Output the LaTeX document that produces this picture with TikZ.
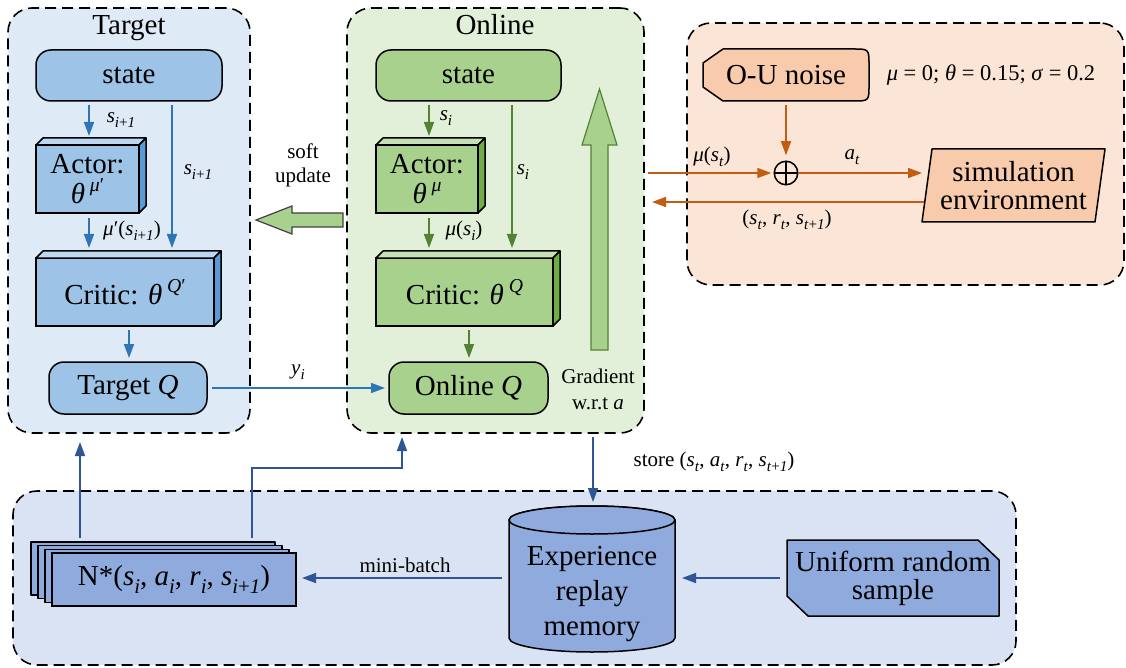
\documentclass[tikz,border=0pt]{standalone}
\usepackage{fontspec}
\setmainfont{Liberation Serif}
\usepackage{graphicx}
\usetikzlibrary{arrows.meta,calc}

% palette
\definecolor{tgtbg}{HTML}{DEEBF7}
\definecolor{tgtfill}{HTML}{9DC3E6}
\definecolor{tgttop}{HTML}{BDD7EE}
\definecolor{tgtside}{HTML}{5B9BD5}
\definecolor{tgtline}{HTML}{2E75B6}
\definecolor{onlbg}{HTML}{E2F0D9}
\definecolor{onlfill}{HTML}{A9D18E}
\definecolor{onltop}{HTML}{C5E0B4}
\definecolor{onlside}{HTML}{70AD47}
\definecolor{onlline}{HTML}{548235}
\definecolor{envbg}{HTML}{FBE5D6}
\definecolor{envfill}{HTML}{F8CBAD}
\definecolor{envline}{HTML}{C55A11}
\definecolor{membg}{HTML}{DAE3F3}
\definecolor{memfill}{HTML}{8FAADC}
\definecolor{memline}{HTML}{2F5597}

\newcommand{\boxsize}{\fontsize{29}{31}\selectfont}
\newcommand{\lblsize}{\fontsize{21}{24}\selectfont}
\newcommand{\mi}[1]{\textit{#1}}
\newcommand{\sbs}[1]{\raisebox{-0.25em}{\scalebox{0.72}{#1}}}
\newcommand{\sps}[1]{\raisebox{0.42em}{\scalebox{0.68}{#1}}}

% top and side faces of a block drawn as a cuboid
\newcommand{\cubefaces}[3]{%
  \draw[line width=1.5pt, line join=round, fill=#2] (#1.north west) -- ++(7,-7)
    -- ($(#1.north east)+(7,-7)$) -- (#1.north east) -- cycle;
  \draw[line width=1.5pt, line join=round, fill=#3] (#1.north east) -- ++(7,-7)
    -- ($(#1.south east)+(7,-7)$) -- (#1.south east) -- cycle;}

\pgfdeclarelayer{panels}
\pgfdeclarelayer{faces}
\pgfsetlayers{panels,faces,main}

\tikzset{
  panel/.style={draw=black, line width=1.6pt, dash pattern=on 11pt off 6pt,
    rounded corners=24pt, inner sep=0pt, outer sep=0pt},
  blk/.style={draw=black, line width=1.5pt, inner sep=0pt, outer sep=0pt,
    align=center, font=\boxsize},
  rblk/.style={blk, rounded corners=15pt},
  plain/.style={inner sep=0pt, outer sep=0pt, align=center, font=\boxsize},
  txt/.style={inner sep=0pt, align=center, font=\lblsize},
  shp/.style={draw=black, line width=1.5pt, line join=round},
  arr/.style={line width=1.6pt, -{Triangle[length=14pt,width=10pt]}},
  tarr/.style={arr, draw=tgtline},
  oarr/.style={arr, draw=onlline},
  earr/.style={arr, draw=envline},
  marr/.style={arr, draw=memline},
}

\begin{document}
\begin{tikzpicture}[x=1pt, y=-1pt]
\useasboundingbox (0,0) rectangle (1126,668);

% ---------- dashed group frames ----------
\begin{pgfonlayer}{panels}
\node[panel, fill=tgtbg, minimum width=242pt, minimum height=425pt] (tpanel) at (129,220.5) {};
\node[panel, fill=onlbg, minimum width=297pt, minimum height=425pt] (opanel) at (495.5,220.5) {};
\node[panel, fill=envbg, minimum width=437pt, minimum height=262pt] (epanel) at (905.5,154) {};
\node[panel, fill=membg, minimum width=1003pt, minimum height=174pt] (bpanel) at (514.5,578) {};
\end{pgfonlayer}

\node[plain, anchor=base] (ttitle) at (129,35) {Target};
\node[plain, anchor=base] (otitle) at (495,35) {Online};

% ---------- target networks ----------
\node[rblk, fill=tgtfill, minimum width=186pt, minimum height=51pt] (tstate) at (129,75.5) {state};
\node[blk, fill=tgtfill, minimum width=103pt, minimum height=68pt] (tactor) at (87.5,179)
  {Actor:\\[-1pt]\mi{θ}\,\sps{\mi{μ}′}};
\node[blk, fill=tgtfill, minimum width=178pt, minimum height=68pt] (tcritic) at (125,292)
  {Critic: \mi{θ}\,\sps{\mi{Q}′}};
\node[rblk, fill=tgtfill, minimum width=158pt, minimum height=52pt] (tq) at (128,388) {Target \mi{Q}};
\cubefaces{tactor}{tgttop}{tgtside}
\cubefaces{tcritic}{tgttop}{tgtside}

\draw[tarr] ($(tstate.south)+(-40,4)$) -- ($(tactor.north)+(1.5,-9)$);
\draw[tarr] ($(tstate.south)+(43,4)$) -- ($(tcritic.north)+(47,-10)$);
\draw[tarr] ($(tactor.south)+(1.5,5)$) -- ($(tcritic.north)+(-36,-10)$);
\draw[tarr] ($(tcritic.south)+(4,4)$) -- ($(tq.north)+(1,-4)$);
\node[txt] (tl1) at (121,120) {\mi{s}\sbs{\mi{i}+\mi{1}}};
\node[txt] (tl2) at (198,172) {\mi{s}\sbs{\mi{i}+\mi{1}}};
\node[txt] (tl3) at (132,231) {\mi{μ}′(\mi{s}\sbs{\mi{i}+\mi{1}})};

% ---------- online networks ----------
\node[rblk, fill=onlfill, minimum width=185pt, minimum height=51pt] (ostate) at (468.5,75.5) {state};
\node[blk, fill=onlfill, minimum width=102pt, minimum height=68pt] (oactor) at (427,179)
  {Actor:\\[-1pt]\mi{θ}\,\sps{\mi{μ}}};
\node[blk, fill=onlfill, minimum width=177pt, minimum height=68pt] (ocritic) at (464.5,292)
  {Critic: \mi{θ}\,\sps{\mi{Q}}};
\node[rblk, fill=onlfill, minimum width=159pt, minimum height=52pt] (oq) at (468.5,388) {Online \mi{Q}};
\cubefaces{oactor}{onltop}{onlside}
\cubefaces{ocritic}{onltop}{onlside}

\draw[oarr] ($(ostate.south)+(-39.5,4)$) -- ($(oactor.north)+(2,-9)$);
\draw[oarr] ($(ostate.south)+(43.5,4)$) -- ($(ocritic.north)+(47.5,-10)$);
\draw[oarr] ($(oactor.south)+(2,5)$) -- ($(ocritic.north)+(-35.5,-10)$);
\draw[oarr] ($(ocritic.south)+(4.5,4)$) -- ($(oq.north)+(0.5,-4)$);
\node[txt] (ol1) at (446,118) {\mi{s}\sbs{\mi{i}}};
\node[txt] (ol2) at (523,172) {\mi{s}\sbs{\mi{i}}};
\node[txt] (ol3) at (464,231) {\mi{μ}(\mi{s}\sbs{\mi{i}})};

% policy gradient arrow
\draw[fill=onlfill, draw=onlline, line width=1.2pt, line join=miter]
  (591,350) -- (591,145) -- (582,145) -- (599.5,89) -- (617,145) -- (608,145) -- (608,350) -- cycle;
\node[txt] (grad) at (598,389) {Gradient\\[2pt]w.r.t \mi{a}};

% soft update arrow
\draw[fill=onlfill, draw=black!75, line width=1.2pt, line join=miter]
  (343,213) -- (292,213) -- (292,206) -- (256,220) -- (292,234) -- (292,227) -- (343,227) -- cycle;
\node[txt] (soft) at (303,165) {soft\\update};

% target value
\draw[tarr] ($(tq.east)+(5,0)$) -- ($(oq.west)+(-4,0)$);
\node[txt] (yi) at (298,372) {\mi{y}\sbs{\mi{i}}};

% ---------- environment ----------
\node[plain, minimum width=166pt, minimum height=52pt] (ou) at (786,75) {O-U noise};
\node[txt, font=\fontsize{22.5}{25}\selectfont] (params) at (991,75) {\mi{μ} = 0; \mi{θ} = 0.15; \mi{σ} = 0.2};
\node[circle, draw, line width=1.5pt, minimum size=23.5pt, inner sep=0pt, outer sep=0pt] (oplus) at (786,173) {};
\draw[line width=1.5pt] (oplus.north) -- (oplus.south) (oplus.west) -- (oplus.east);
\node[plain, minimum width=173pt, minimum height=73pt] (sim) at (1013.5,185.5) {simulation\\[-3pt]environment};

\begin{pgfonlayer}{faces}
\draw[shp, fill=envfill] ($(ou.north west)+(20,0)$) -- ($(ou.north east)+(-16,0)$)
  .. controls (ou.north east) .. ($(ou.north east)+(0,16)$) -- ($(ou.south east)+(0,-16)$)
  .. controls (ou.south east) .. ($(ou.south east)+(-16,0)$) -- ($(ou.south west)+(20,0)$)
  -- ($(ou.south west)+(0,-14)$) -- ($(ou.north west)+(0,14)$) -- cycle;
\draw[shp, fill=envfill] ($(sim.north west)+(5,0)$) -- ($(sim.north east)+(5,0)$)
  -- ($(sim.south east)+(-5,0)$) -- ($(sim.south west)+(-5,0)$) -- cycle;
\end{pgfonlayer}

\draw[earr] ($(ou.south)+(0,4)$) -- ($(oplus.north)+(0,-6)$);
\draw[earr] ($(opanel.east)+(4,-47.5)$) -- ($(oplus.west)+(-3,0)$);
\draw[earr] (oplus.east) -- ($(sim.west)+(-5,-12.5)$);
\draw[earr] ($(sim.west)+(-3,16.5)$) -- ($(opanel.east)+(8,-18.5)$);
\node[txt] (mus) at (712,157) {\mi{μ}(\mi{s}\sbs{\mi{t}})};
\node[txt] (at) at (852,157) {\mi{a}\sbs{\mi{t}}};
\node[txt] (ret) at (787,220) {(\mi{s}\sbs{\mi{t}}, \mi{r}\sbs{\mi{t}}, \mi{s}\sbs{\mi{t}+\mi{1}})};

% ---------- replay buffer ----------
\node[blk, fill=memfill, minimum width=244pt, minimum height=53pt] (nstar) at (174,579.5)
  {N*(\mi{s}\sbs{\mi{i}}, \mi{a}\sbs{\mi{i}}, \mi{r}\sbs{\mi{i}}, \mi{s}\sbs{\mi{i}+\mi{1}})};
\node[plain, minimum width=166pt, minimum height=146pt] (mem) at (592,579) {};
\node[plain] (memtxt) at (592,594) {Experience\\[4pt]replay\\[4pt]memory};
\node[plain, minimum width=212pt, minimum height=76pt] (unif) at (893,578) {Uniform random\\[-3pt]sample};

\begin{pgfonlayer}{faces}
\foreach \k in {3,2,1}
  \draw[shp, fill=memfill] ($(nstar.north west)+(-7*\k,-3.7*\k)$) rectangle ($(nstar.south east)+(-7*\k,-3.7*\k)$);
\draw[shp, fill=memfill] ($(mem.north west)+(0,14)$) -- ($(mem.south west)+(0,-14)$)
  arc[start angle=180, end angle=0, x radius=83, y radius=14]
  -- ($(mem.north east)+(0,14)$)
  arc[start angle=0, end angle=-180, x radius=83, y radius=14] -- cycle;
\draw[shp, fill=memfill] ($(mem.north)+(0,14)$) ellipse[x radius=83, y radius=14];
\draw[shp, fill=memfill] (unif.north west) -- ($(unif.north east)+(-21,0)$) -- ($(unif.north east)+(0,20)$)
  -- (unif.south east) -- ($(unif.south west)+(21,0)$) -- ($(unif.south west)+(0,-20)$) -- cycle;
\end{pgfonlayer}

\draw[marr] ($(nstar.north west)+(28,-15)$) -- ($(tpanel.south)+(-49,9)$);
\draw[marr] ($(nstar.north west)+(200,-15)$) -- ++(0,-70) -| ($(opanel.south)+(-93.5,4)$);
\draw[marr] ($(mem.west)+(-7,-1)$) -- ($(nstar.east)+(6,-1.5)$);
\draw[marr] ($(unif.west)+(-7,0)$) -- ($(mem.east)+(7,-1)$);
\draw[marr] ($(opanel.south)+(97.5,4)$) -- ($(mem.north)+(1,-4)$);
\node[txt] (mb) at (405,565) {mini-batch};
\node[txt] (store) at (714,462) {store (\mi{s}\sbs{\mi{t}}, \mi{a}\sbs{\mi{t}}, \mi{r}\sbs{\mi{t}}, \mi{s}\sbs{\mi{t}+\mi{1}})};

\end{tikzpicture}
\end{document}
